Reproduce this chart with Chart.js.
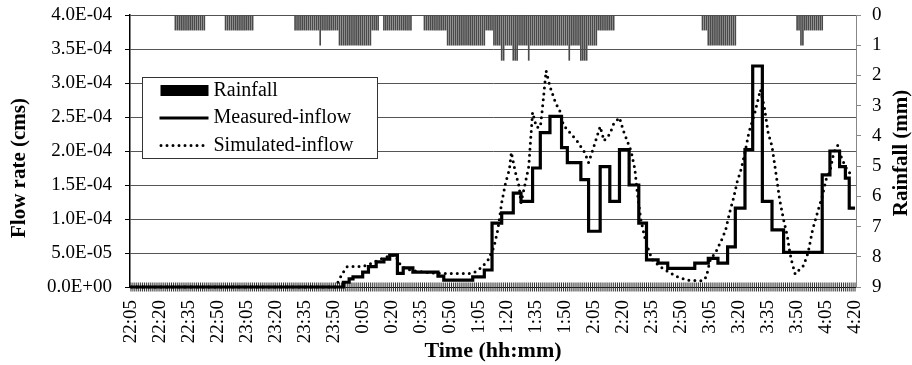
<!DOCTYPE html>
<html>
<head>
<meta charset="utf-8">
<style>
  html, body { margin: 0; padding: 0; background: #fff; }
  canvas { display: block; }
</style>
</head>
<body>
<canvas id="flowChart" width="912" height="365"></canvas>
<script src="https://cdn.jsdelivr.net/npm/chart.js"></script>
<script>
// x axis: one category per minute from 22:05 to 4:20, labelled every 15 min
const timeLabels = ['22:05', '22:20', '22:35', '22:50', '23:05', '23:20', '23:35', '23:50',
    '0:05', '0:20', '0:35', '0:50', '1:05', '1:20', '1:35', '1:50', '2:05', '2:20', '2:35',
    '2:50', '3:05', '3:20', '3:35', '3:50', '4:05', '4:20'];
const flowTickLabels = ['0.0E+00', '5.0E-05', '1.0E-04', '1.5E-04', '2.0E-04', '2.5E-04',
    '3.0E-04', '3.5E-04', '4.0E-04'];
const rainTickLabels = ['0', '1', '2', '3', '4', '5', '6', '7', '8', '9'];

// rainfall per minute (mm), one row = 15 minutes starting at 22:05
const rainfallMm = [
    0, 0, 0, 0, 0, 0, 0, 0, 0, 0, 0, 0, 0, 0, 0,
    0, 0, 0, 0, 0, 0, 0, 0, .5, .5, .5, .5, .5, .5, .5,
    .5, .5, .5, .5, .5, .5, .5, .5, .5, 0, 0, 0, 0, 0, 0,
    0, 0, 0, 0, .5, .5, .5, .5, .5, .5, .5, .5, .5, .5, .5,
    .5, .5, .5, .5, 0, 0, 0, 0, 0, 0, 0, 0, 0, 0, 0,
    0, 0, 0, 0, 0, 0, 0, 0, 0, 0, .5, .5, .5, .5, .5,
    .5, .5, .5, .5, .5, .5, .5, .5, 1, .5, .5, .5, .5, .5, .5,
    .5, .5, .5, 1, 1, 1, 1, 1, 1, 1, 1, 1, 1, 1, 1,
    1, 1, 1, 1, 1, .5, .5, .5, .5, 0, 0, .5, .5, .5, .5,
    .5, .5, .5, .5, .5, .5, .5, .5, .5, .5, .5, 0, 0, 0, 0,
    0, 0, .5, .5, .5, .5, .5, .5, .5, .5, .5, .5, .5, .5, 1,
    1, 1, 1, 1, 1, 1, 1, 1, 1, 1, 1, 1, 1, 1, 1,
    1, 1, 1, 1, .5, .5, .5, .5, 1, 1, 1, 1, 1.5, 1.5, 1,
    1, 1, 1, 1.5, 1.5, 1.5, 1, 1, 1, 1, 1, 1.5, 1, 1, 1,
    1, 1, 1, 1, 1, 1, 1, 1, 1, 1, 1, 1, 1, 1, 1,
    1, 1, 1.5, 1, 1, 1, 1, 1, 1.5, 1.5, 1.5, 1.5, 1, 1, 1,
    1, 1, .5, .5, .5, .5, .5, .5, .5, .5, .5, 0, 0, 0, 0,
    0, 0, 0, 0, 0, 0, 0, 0, 0, 0, 0, 0, 0, 0, 0,
    0, 0, 0, 0, 0, 0, 0, 0, 0, 0, 0, 0, 0, 0, 0,
    0, 0, 0, 0, 0, 0, 0, 0, 0, 0, 0, .5, .5, .5, 1,
    1, 1, 1, 1, 1, 1, 1, 1, 1, 1, 1, 1, 1, 1, 0,
    0, 0, 0, 0, 0, 0, 0, 0, 0, 0, 0, 0, 0, 0, 0,
    0, 0, 0, 0, 0, 0, 0, 0, 0, 0, 0, 0, 0, 0, 0,
    .5, .5, 1, 1, .5, .5, .5, .5, .5, .5, .5, .5, .5, .5, 0,
    0, 0, 0, 0, 0, 0, 0, 0, 0, 0, 0, 0, 0, 0, 0,
    0
];

// [minute after 22:05, flow (cms)] - measured is a step series
const measuredPoints = [
    [0, 0], [110, 0.7e-5], [113, 1.2e-5], [115, 1.5e-5], [120, 2.2e-5], [123, 3.0e-5],
    [127, 3.7e-5], [131, 4.1e-5], [134, 4.7e-5], [138, 2.0e-5], [141, 2.8e-5], [146, 2.2e-5],
    [159, 1.6e-5], [162, 1.0e-5], [177, 1.5e-5], [183, 2.5e-5], [187, 9.4e-5], [192, 1.09e-4],
    [198, 1.38e-4], [202, 1.26e-4], [208, 1.75e-4], [212, 2.27e-4], [217, 2.51e-4], [223, 2.05e-4],
    [226, 1.83e-4], [233, 1.58e-4], [237, 8.2e-5], [243, 1.77e-4], [248, 1.26e-4], [253, 2.02e-4],
    [258, 1.5e-4], [263, 9.4e-5], [267, 4.0e-5], [273, 3.5e-5], [278, 2.75e-5], [292, 3.5e-5],
    [299, 4.2e-5], [304, 3.5e-5], [309, 5.9e-5], [313, 1.16e-4], [318, 2.02e-4], [322, 3.25e-4],
    [327, 1.26e-4], [332, 8.4e-5], [338, 5.1e-5], [358, 1.65e-4], [362, 2.0e-4], [367, 1.77e-4],
    [370, 1.6e-4], [372, 1.16e-4], [375, 1.16e-4]
];

const simulatedPoints = [
    [0, 0], [106, 0], [108, 1.2e-5], [110, 2.2e-5], [112, 3.0e-5], [120, 3.0e-5], [123, 3.3e-5],
    [127, 3.8e-5], [131, 4.3e-5], [135, 4.7e-5], [137, 4.6e-5], [140, 3.0e-5], [143, 2.6e-5],
    [148, 2.3e-5], [155, 2.1e-5], [160, 2.0e-5], [176, 2.0e-5], [179, 2.3e-5], [182, 3.0e-5],
    [185, 4.0e-5], [188, 5.9e-5], [190, 8.4e-5], [192, 1.24e-4], [194, 1.53e-4], [196, 1.73e-4],
    [197, 1.98e-4], [199, 1.7e-4], [201, 1.48e-4], [202, 1.24e-4], [204, 1.5e-4], [206, 1.77e-4],
    [208, 2.57e-4], [210, 2.35e-4], [212, 2.35e-4], [213, 2.6e-4], [215, 3.18e-4], [217, 2.95e-4],
    [220, 2.7e-4], [222, 2.6e-4], [224, 2.38e-4], [227, 2.28e-4], [231, 2.15e-4], [235, 1.98e-4],
    [237, 1.83e-4], [239, 2.0e-4], [243, 2.36e-4], [245, 2.15e-4], [248, 2.25e-4], [250, 2.4e-4],
    [253, 2.49e-4], [255, 2.3e-4], [257, 2.15e-4], [259, 2.0e-4], [261, 1.73e-4], [262, 1.45e-4],
    [264, 1.0e-4], [266, 7.4e-5], [268, 5.5e-5], [270, 4.0e-5], [274, 3.0e-5], [278, 2.3e-5],
    [283, 1.5e-5], [288, 1.0e-5], [296, 0.9e-5], [298, 1.5e-5], [300, 4.0e-5], [303, 5.2e-5],
    [306, 7.0e-5], [308, 8.4e-5], [310, 1.09e-4], [312, 1.3e-4], [314, 1.55e-4], [316, 1.73e-4],
    [318, 1.98e-4], [320, 2.27e-4], [323, 2.55e-4], [326, 2.9e-4], [328, 2.65e-4], [330, 2.27e-4],
    [332, 2.07e-4], [334, 1.68e-4], [336, 1.28e-4], [338, 9.9e-5], [340, 7.4e-5], [341, 5.5e-5],
    [342, 4.0e-5], [344, 1.9e-5], [346, 2.5e-5], [348, 3.0e-5], [350, 4.4e-5], [351, 5.5e-5],
    [353, 8.4e-5], [356, 1.14e-4], [358, 1.33e-4], [360, 1.58e-4], [362, 1.7e-4], [364, 1.98e-4],
    [366, 2.08e-4], [368, 1.9e-4], [370, 1.77e-4], [372, 1.68e-4], [375, 1.7e-4]
];

const serif = "'Liberation Serif', 'Times New Roman', Times, serif";
Chart.defaults.font.family = serif;
Chart.defaults.color = '#000';

// small crossing tick for every minute on the time axis
const minuteTicks = {
    id: 'minuteTicks',
    beforeDatasetsDraw(chart) {
        const { ctx, chartArea } = chart;
        const x = chart.scales.x;
        const y0 = chartArea.bottom;
        ctx.save();
        ctx.strokeStyle = '#333';
        ctx.lineWidth = 1;
        ctx.beginPath();
        rainfallMm.forEach((_, i) => {
            const px = x.getPixelForValue(i);
            ctx.moveTo(px, y0 - 4.5);
            ctx.lineTo(px, y0 + 4.5);
        });
        ctx.stroke();
        ctx.restore();
    }
};

// the two vertical axis titles (both read bottom to top)
const sideTitles = {
    id: 'sideTitles',
    afterDraw(chart) {
        const { ctx, chartArea } = chart;
        const midY = (chartArea.top + chartArea.bottom) / 2;
        ctx.save();
        ctx.font = 'bold 21px ' + serif;
        ctx.fillStyle = '#000';
        ctx.textAlign = 'center';
        ctx.textBaseline = 'middle';
        [['Flow rate (cms)', 20, midY + 17], ['Rainfall (mm)', 902, midY + 2]].forEach(([t, cx, cy]) => {
            ctx.save();
            ctx.translate(cx, cy);
            ctx.rotate(-Math.PI / 2);
            ctx.fillText(t, 0, 0);
            ctx.restore();
        });
        ctx.restore();
    }
};

// boxed legend inside the plot
const legendBox = {
    id: 'legendBox',
    afterDraw(chart) {
        const { ctx, chartArea } = chart;
        const ds = chart.data.datasets;
        const bx = chartArea.left + 12.5, by = chartArea.top + 62.5;
        ctx.save();
        ctx.fillStyle = '#fff';
        ctx.fillRect(bx, by, 235, 81);
        ctx.strokeStyle = '#333';
        ctx.lineWidth = 1;
        ctx.strokeRect(bx, by, 235, 81);
        ctx.font = '20px ' + serif;
        ctx.textBaseline = 'middle';
        ds.forEach((d, k) => {
            const ry = by + 13 + k * 27.5;
            const sx = bx + 17;
            if (d.type === 'bar') {
                ctx.fillStyle = '#000';
                ctx.fillRect(sx + 1, ry - 5.5, 48, 11);
            } else {
                ctx.strokeStyle = d.borderColor;
                ctx.lineWidth = d.borderWidth;
                ctx.lineCap = d.borderCapStyle || 'butt';
                ctx.setLineDash(d.borderDash || []);
                ctx.beginPath();
                ctx.moveTo(sx + (d.borderDash ? 1.5 : 0), ry);
                ctx.lineTo(sx + 49, ry);
                ctx.stroke();
                ctx.setLineDash([]);
            }
            ctx.fillStyle = '#000';
            ctx.fillText(d.label, sx + 54, ry);
        });
        ctx.restore();
    }
};

const noPad = s => { s.paddingTop = 0; s.paddingBottom = 0; };

new Chart(document.getElementById('flowChart'), {
    type: 'bar',
    data: {
        datasets: [
            {
                type: 'bar',
                label: 'Rainfall',
                yAxisID: 'y2',
                data: rainfallMm.map((v, i) => ({ x: i, y: v })),
                backgroundColor: '#4a4a4a',
                barThickness: 1,
                order: 3
            },
            {
                type: 'line',
                label: 'Measured-inflow',
                yAxisID: 'y',
                data: measuredPoints.map(([m, v]) => ({ x: m, y: v })),
                borderColor: '#000',
                borderWidth: 3.2,
                stepped: true,
                pointRadius: 0,
                fill: false,
                clip: 5,
                order: 1
            },
            {
                type: 'line',
                label: 'Simulated-inflow',
                yAxisID: 'y',
                data: simulatedPoints.map(([m, v]) => ({ x: m, y: v })),
                borderColor: '#000',
                borderWidth: 3,
                borderDash: [0, 6],
                borderCapStyle: 'round',
                pointRadius: 0,
                tension: 0,
                fill: false,
                clip: 5,
                order: 2
            }
        ]
    },
    options: {
        responsive: false,
        animation: false,
        layout: { padding: { top: 15, left: 0, right: 0, bottom: 0 } },
        plugins: {
            legend: { display: false },
            tooltip: { enabled: false }
        },
        scales: {
            x: {
                type: 'linear',
                position: 'bottom',
                min: -0.5,
                max: 375.5,
                offset: false,
                afterBuildTicks: axis => { axis.ticks = timeLabels.map((_, k) => ({ value: k * 15 })); },
                ticks: {
                    autoSkip: false,
                    minRotation: 90,
                    maxRotation: 90,
                    padding: 13,
                    font: { size: 19 },
                    callback: (v, idx) => timeLabels[idx]
                },
                grid: { display: false, drawTicks: false },
                border: { display: true, color: '#000', width: 1 },
                title: { display: true, text: 'Time (hh:mm)', font: { size: 22, weight: 'bold' }, padding: 0 },
                afterFit: s => { s.height = 78; s.paddingLeft = 0; s.paddingRight = 0; }
            },
            y: {
                position: 'left',
                min: 0,
                max: 4e-4,
                afterBuildTicks: axis => { axis.ticks = flowTickLabels.map((_, k) => ({ value: k * 5e-5 })); },
                ticks: {
                    padding: 13,
                    font: { size: 19 },
                    callback: (v, idx) => flowTickLabels[idx]
                },
                grid: { color: '#555', lineWidth: 1, tickColor: '#000', tickLength: 5 },
                border: { color: '#000', width: 1.5 },
                afterFit: s => { s.width = 130; noPad(s); }
            },
            y2: {
                position: 'right',
                reverse: true,
                min: 0,
                max: 9,
                afterBuildTicks: axis => { axis.ticks = rainTickLabels.map((_, k) => ({ value: k })); },
                ticks: {
                    padding: 11,
                    font: { size: 19 },
                    callback: (v, idx) => rainTickLabels[idx]
                },
                grid: { drawOnChartArea: false, color: '#888', tickLength: 5 },
                border: { color: '#888', width: 1 },
                afterFit: s => { s.width = 56; noPad(s); }
            }
        }
    },
    plugins: [minuteTicks, sideTitles, legendBox]
});
</script>
</body>
</html>
